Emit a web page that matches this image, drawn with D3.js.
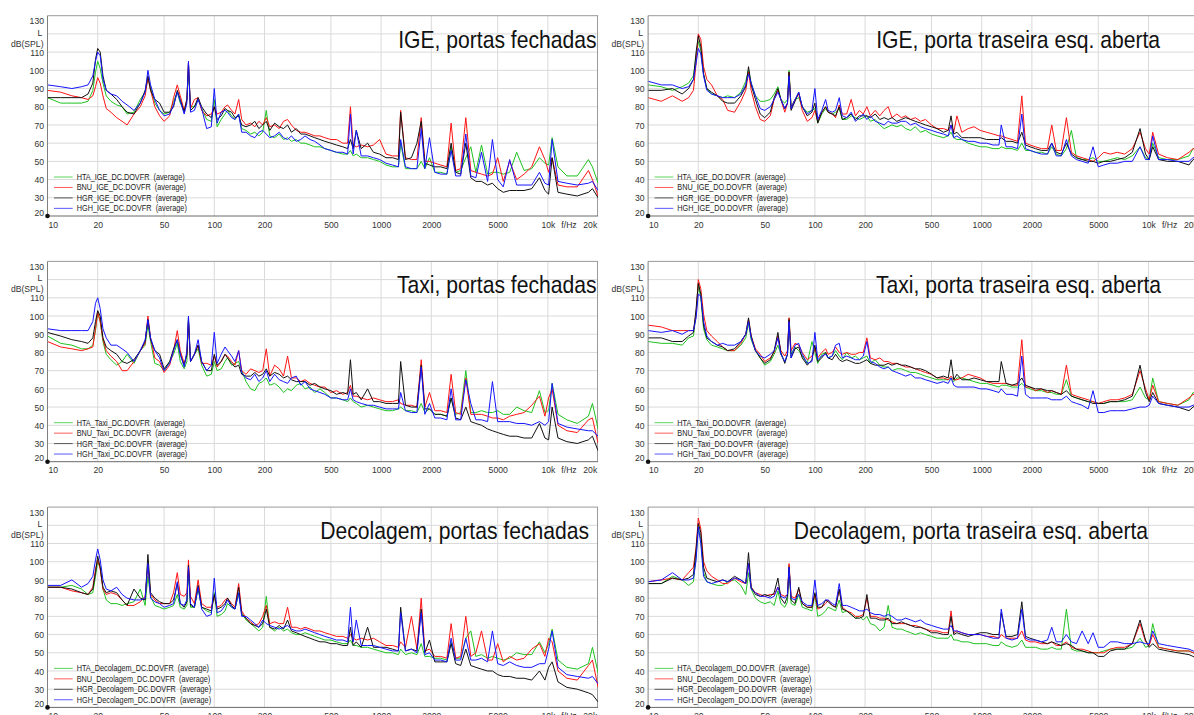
<!DOCTYPE html>
<html>
<head>
<meta charset="utf-8">
<script src="https://cdn.jsdelivr.net/npm/d3@7"></script>
<style>
  html, body { margin: 0; padding: 0; background: #fff; overflow: hidden; }
  svg { display: block; font-family: "Liberation Sans", Arial, Helvetica, sans-serif; }
</style>
</head>
<body>
<svg id="chart" width="1194" height="715"></svg>
<script>
// Frequency grid (Hz) shared by every spectrum
const freqs = [10,12,14,16,17.5,18.7,19.4,20,20.7,21.5,22.5,24,26,28,30,33,36,38.5,40,41.5,44,47,50,54,57,60,62.5,66,68.5,70,72,76,80,84,90,96,100,104,110,116,120,127,133,140,146,
  155,165,175,185,195,205,215,230,245,260,275,290,310,330,
  350,375,400,430,460,500,540,590,630,655,680,710,760,830,900,980,1070,1170,1270,1310,1400,1520,1640,1740,1830,1950,2100,2280,2480,2630,2800,3000,3220,3450,3700,4000,4350,4650,5000,5400,5900,6500,7200,8000,8900,9600,10100,10600,11500,13000,15000,17500,18500,20000];

const seriesNames = ["HTA", "BNU", "HGR", "HGH"];
const seriesColors = ["#1fc21f", "#ff1414", "#111111", "#1414ff"];
const legendColors = ["#5ad65a", "#ff5a5a", "#555555", "#5a5aff"];

const xTickValues = [10, 20, 50, 100, 200, 500, 1000, 2000, 5000, 10000, 20000];
const xTickLabels = ["10", "20", "50", "100", "200", "500", "1000", "2000", "5000", "10k", "20k"];
const yTickValues = [20, 30, 40, 50, 60, 70, 80, 90, 100, 110, 130];
const yGridValues = [30, 40, 50, 60, 70, 80, 90, 100, 110, 120];
const xGridValues = [20, 50, 100, 200, 500, 1000, 2000, 5000, 10000];

// Levels in dB(SPL), one value per grid frequency
const igeDcHTA = [85,82,82,82,83,89,99,105,101,93,86,83,81,80,76,77,84,88,95,91,82,78,76,77,83,88,82,78,84,99,80,80,84,79,73,72,84,69,73,76,78,75,73,76,68, 67,65,66,64,66,78,64,63,65,62,63,61,62,60, 60,59,58,58,57,56,55,54,54,56,53,54,52,52,51,50,48,47,47,60,46,46,46,50,46,52,44,44,43,58,44,45,52,58,44,59,43,44,44,43,44,55,45,46,52,49,48,63,47,42,42,51,47,38];
const igeDcBNU = [89,88,86,85,84,86,91,96,93,86,79,77,74,72,70,76,80,86,96,89,80,75,72,75,85,92,86,78,84,104,79,84,85,78,75,76,80,76,77,80,81,78,76,84,73, 70,71,69,72,70,74,69,70,68,72,73,70,67,66, 66,65,64,64,63,62,62,60,60,80,59,58,59,58,59,62,54,53,53,78,52,51,51,74,50,50,49,48,47,71,45,46,74,45,44,43,42,43,52,39,50,40,43,47,58,51,44,52,37,36,36,45,40,31];
const igeDcHGR = [85,85,85,85,87,93,106,112,110,97,89,87,84,80,77,76,82,89,97,89,84,82,77,77,80,89,84,77,84,104,78,80,85,80,76,74,80,73,75,79,78,77,74,75,70, 69,70,72,68,70,72,67,71,69,68,70,66,68,65, 65,64,63,62,61,60,59,58,57,62,57,67,57,60,55,54,52,52,51,77,51,52,60,72,49,48,47,47,46,60,44,43,60,41,39,39,37,38,35,33,34,34,34,35,41,34,32,52,33,32,31,33,35,30];
const igeDcHGH = [92,91,90,91,92,97,105,110,108,95,89,87,86,83,81,78,82,88,100,92,84,78,75,76,81,88,83,76,82,105,77,78,84,79,68,69,90,71,77,78,77,74,73,76,66, 66,64,63,66,67,65,63,64,66,63,62,64,61,62, 64,62,61,59,57,56,55,55,54,76,54,67,53,53,52,51,49,48,47,62,47,46,46,68,46,63,44,43,43,56,42,42,65,42,41,55,39,62,40,36,51,37,37,37,44,38,37,62,39,38,37,38,39,34];

const igeDoHTA = [92,91,89,91,93,97,108,116,111,98,90,87,86,85,86,85,88,94,100,93,86,83,83,84,87,91,84,82,84,100,80,84,85,80,77,78,79,71,76,79,77,76,77,79,73, 73,75,74,73,74,75,72,73,70,68,69,70,69,70, 68,67,69,66,67,65,64,63,64,66,63,62,62,60,59,58,58,57,57,58,57,57,56,60,56,56,55,55,54,58,54,53,57,67,52,51,51,52,50,50,51,52,51,53,58,52,51,60,52,51,51,53,57,57];
const igeDoBNU = [85,83,86,83,85,89,104,120,117,102,95,92,86,84,78,77,83,89,99,89,80,73,72,75,84,89,84,77,82,99,79,84,87,78,72,74,78,72,77,80,77,76,74,81,76, 76,84,75,78,76,80,75,78,75,78,80,74,76,74, 75,73,74,72,73,70,68,68,67,70,66,75,66,68,69,67,66,65,64,64,63,62,61,86,60,59,58,57,57,70,56,56,74,55,53,52,51,50,52,55,54,55,54,57,66,57,54,66,54,52,51,55,57,56];
const igeDoHGR = [89,89,90,87,90,95,110,119,113,98,90,88,86,83,82,82,86,91,102,92,84,76,74,77,85,90,84,79,82,99,78,83,88,80,75,77,82,71,77,80,77,76,75,80,73, 74,76,73,75,75,75,74,76,73,74,73,74,72,73, 74,73,72,71,70,69,68,66,67,75,65,66,63,63,63,63,62,62,62,63,61,61,60,66,59,58,57,56,56,60,55,54,60,54,52,51,50,50,49,50,50,51,52,55,68,54,51,58,51,50,50,48,51,52];
const igeDoHGH = [94,92,92,90,91,95,104,112,109,97,89,87,86,85,85,85,87,92,98,93,86,79,78,80,84,88,84,79,82,97,79,84,88,80,76,78,90,73,78,84,78,77,78,85,75, 74,77,72,74,76,73,75,72,71,70,72,71,71,72, 72,70,71,69,68,67,66,65,64,70,63,64,62,61,61,60,60,59,59,70,58,58,57,76,57,56,55,54,54,60,53,53,62,53,51,50,49,58,47,48,49,49,50,50,58,51,51,64,51,51,50,50,52,53];

const taxiDcHTA = [89,85,84,82,82,84,92,102,97,86,79,76,73,75,79,74,81,84,95,86,74,73,70,75,79,85,75,71,75,97,75,79,82,73,67,68,75,70,71,75,77,73,74,75,70, 64,60,59,63,64,66,62,63,61,58,60,59,62,63,60,61,58,60,58,55,55,54,53,55,53,52,50,51,50,49,48,48,49, 50,48,48,47,52,47,49,46,46,45,55,46,47,70,47,47,48,47,47,48,46,46,50,48,47,59,47,48,63,46,43,41,45,52,38];
const taxiDcBNU = [86,83,82,81,82,83,93,102,97,87,81,78,75,70,70,75,81,85,100,88,77,75,69,73,81,92,81,74,79,97,75,79,84,74,74,73,78,72,75,79,78,75,73,81,70, 68,71,70,69,70,82,67,73,71,67,78,66,66,64,65,63,62,61,61,58,59,57,58,62,56,56,55,54,55,54,53,53,54, 52,51,51,50,76,50,58,48,48,47,68,47,46,66,46,46,46,45,44,44,43,45,46,47,51,56,45,55,60,40,37,36,43,44,30];
const taxiDcHGR = [91,89,87,86,85,88,97,103,100,88,83,81,79,75,74,76,81,86,98,87,81,79,71,75,82,87,79,73,79,99,75,79,84,75,70,70,79,73,75,79,77,74,72,73,68, 67,67,69,67,68,71,67,69,68,66,67,65,64,64,64,62,63,61,60,59,57,58,57,76,57,58,54,60,53,53,52,52,52, 75,51,50,50,73,49,49,46,46,45,55,44,43,50,42,41,40,38,37,36,35,34,34,33,33,41,33,32,50,33,31,30,32,34,26];
const taxiDcHGH = [93,92,92,92,92,97,107,110,104,93,88,84,84,82,80,75,81,87,98,88,81,77,70,74,81,87,79,72,81,100,75,79,87,75,70,73,91,74,79,83,81,78,75,81,69, 66,65,68,64,66,70,64,68,65,64,63,66,67,62,64,60,59,58,57,55,55,54,54,60,54,53,52,51,51,50,49,49,49, 58,48,47,47,72,46,52,44,44,43,60,43,43,65,52,43,43,42,64,42,42,42,41,41,40,42,40,42,63,41,39,38,37,37,34];

const taxiDoHTA = [86,85,85,84,88,89,101,117,110,93,87,84,83,82,81,81,84,88,96,87,81,77,73,75,79,84,79,75,79,99,79,83,81, 78,74,86,80,74,79,80,77,78,81,78,76, 80,77,78,76,77,78,74,76,73,72,72,70,71,71, 70,69,69,68,67,66,65,65,65,66,64,66,66,65,64,63,63,62,61,62,62,61,61,63,61,60,59,59,58,58,57,57,65,56,55,54,53,53,52,52,53,53,53,54,61,55,54,66,53,52,51,54,58,56];
const taxiDoBNU = [95,94,92,92,92,92,101,120,115,101,92,89,86,83,81,81,85,90,98,89,82,79,75,77,80,89,81,78,81,99,81,85,84, 80,76,78,82,77,80,82,79,80,83,80,79, 80,79,79,80,80,88,77,76,77,75,75,74,74,73, 72,72,71,70,69,68,66,66,65,67,65,65,66,68,67,66,64,63,63,63,63,62,62,87,61,61,59,60,58,59,58,57,73,57,56,55,54,53,52,53,54,54,55,57,70,60,54,62,53,52,51,55,57,56];
const taxiDoHGR = [88,88,86,86,89,91,104,118,112,95,88,86,84,83,81,82,86,90,99,89,81,77,74,76,81,91,80,74,79,98,77,82,83, 77,73,76,84,75,77,80,77,76,79,76,75, 76,75,74,74,75,76,74,73,73,73,74,73,74,73, 73,72,71,71,70,68,66,67,66,76,65,68,65,65,66,65,64,64,64,75,63,62,63,66,62,61,60,60,59,59,58,57,59,56,55,54,53,52,52,52,53,53,54,56,73,58,53,58,52,51,50,48,50,52];
const taxiDoHGH = [92,91,92,90,92,92,99,112,111,97,89,86,84,85,84,84,86,90,97,88,81,78,77,79,81,88,79,75,79,97,77,84,85, 79,74,75,91,76,78,79,77,78,84,85,77, 78,77,76,76,78,86,75,74,72,71,72,70,69,68, 67,68,66,66,65,64,63,64,63,66,62,61,61,61,61,60,60,59,58,60,57,57,56,78,57,55,55,55,55,54,54,54,56,53,52,51,49,59,47,47,48,48,48,49,50,50,51,56,52,51,50,50,51,52];

const decDcHTA = [86,86,87,85,82,83,92,100,97,85,79,77,77,76,77,78,85,76,92,81,76,75,74,75,76,82,75,74,76,95,75,75,85,75,73,72,83,70,71,73,77,75,74,82,72, 68,66,64,62,64,81,64,62,64,62,63,61,60,60, 61,60,59,58,57,57,56,55,55,57,54,54,53,53,52,51,50,50,49,52,49,50,49,55,48,48,47,47,46,56,47,47,58,62,48,49,47,48,47,46,47,50,49,49,56,50,55,63,46,42,41,44,53,39];
const decDcBNU = [86,86,84,83,82,86,96,101,96,85,82,83,82,79,76,76,78,81,99,82,79,77,77,77,83,94,82,81,83,101,81,77,90,77,75,75,81,75,76,79,80,77,75,88,73, 69,67,65,66,70,76,66,67,66,66,75,64,64,63, 64,63,62,62,61,60,59,59,58,60,58,57,58,57,58,56,54,54,53,56,53,70,52,80,51,52,48,48,47,66,47,48,70,48,50,62,46,46,55,45,48,46,47,52,55,48,58,56,40,36,35,43,46,31];
const decDcHGR = [86,86,85,83,82,85,94,103,97,86,83,84,83,79,76,85,80,79,104,83,80,78,77,77,79,88,77,75,78,98,76,75,87,75,74,73,82,74,75,77,80,76,74,86,71, 69,66,65,64,66,74,64,63,65,63,68,62,61,60, 59,58,57,56,56,55,55,54,54,64,54,56,53,64,53,53,53,52,51,75,51,52,51,74,50,57,45,45,45,55,44,43,52,43,42,41,40,40,38,37,37,36,36,35,40,35,42,45,34,31,30,28,27,23];
const decDcHGH = [87,87,90,86,88,92,101,107,101,90,85,84,86,82,80,79,79,80,99,80,78,77,75,76,77,89,77,76,79,97,77,75,86,74,70,71,91,72,73,76,79,75,74,83,70, 70,68,66,64,68,66,65,64,63,64,65,63,62,62, 63,62,61,60,59,58,57,57,56,75,56,68,54,54,54,53,52,51,51,72,51,52,50,72,49,50,46,46,45,58,46,46,58,46,46,47,45,62,44,43,45,43,42,42,44,44,52,62,42,38,37,36,37,33];

const decDoHTA = [88,88,92,90,87,89,103,119,112,94,89,88,87,87,89,90,87,82,94,85,80,78,77,78,76,84,77,75,78,98,77,76,82,75,74,73,82,70,71,73,75,74,73,79,72, 73,71,69,70,68,70,66,65,62,64,76,64,63,63, 62,61,60,61,60,59,58,58,58,60,57,57,56,56,55,55,55,54,54,56,54,53,54,57,53,53,53,52,52,53,52,52,74,52,51,51,50,50,50,51,52,52,52,53,58,53,54,66,53,52,51,51,50,49];
const decDoBNU = [89,90,91,90,94,97,108,124,118,100,95,92,90,88,88,91,89,88,99,86,83,82,81,82,82,86,82,81,82,99,81,80,85,77,75,75,82,74,75,77,79,76,75,85,75, 73,72,70,70,71,80,70,70,69,69,68,67,66,66, 66,65,65,64,63,62,62,61,61,73,61,62,61,60,60,60,59,59,58,60,58,58,58,62,57,56,56,55,55,56,54,54,56,53,52,52,51,50,50,50,52,53,53,55,66,56,54,60,53,52,51,51,50,49];
const decDoHGR = [88,88,91,90,91,93,107,121,116,97,91,90,89,90,89,92,90,88,105,86,82,81,82,81,83,91,80,77,81,97,79,77,86,77,75,75,83,75,75,79,78,76,75,85,74, 73,71,69,69,70,82,69,69,68,68,69,66,66,67, 66,65,64,64,63,61,61,60,60,70,60,61,60,59,60,61,61,60,60,72,59,59,60,78,59,58,57,56,55,56,55,54,55,54,52,51,50,50,48,48,51,52,52,55,68,57,53,55,52,51,50,49,48,46];
const decDoHGH = [89,90,94,90,90,91,101,119,110,92,89,88,89,90,89,91,90,88,99,85,83,81,81,80,81,86,81,80,82,97,80,79,82,78,76,76,90,76,77,79,79,77,76,88,76, 76,75,74,73,73,74,72,71,71,70,71,70,68,68, 69,68,67,68,66,65,64,63,63,65,62,62,61,60,60,60,59,58,58,74,58,57,58,74,58,57,57,56,57,64,56,56,60,56,55,62,55,61,53,53,56,56,55,55,56,55,55,62,55,54,53,52,51,50];

const panelTitles = [
  "IGE, portas fechadas", "IGE, porta traseira esq. aberta",
  "Taxi, portas fechadas", "Taxi, porta traseira esq. aberta",
  "Decolagem, portas fechadas", "Decolagem, porta traseira esq. aberta"
];
const panelKeys = ["IGE_DC", "IGE_DO", "Taxi_DC", "Taxi_DO", "Decolagem_DC", "Decolagem_DO"];
const panelSeries = [
  [igeDcHTA, igeDcBNU, igeDcHGR, igeDcHGH],
  [igeDoHTA, igeDoBNU, igeDoHGR, igeDoHGH],
  [taxiDcHTA, taxiDcBNU, taxiDcHGR, taxiDcHGH],
  [taxiDoHTA, taxiDoBNU, taxiDoHGR, taxiDoHGH],
  [decDcHTA, decDcBNU, decDcHGR, decDcHGH],
  [decDoHTA, decDoBNU, decDoHGR, decDoHGH]
];

// ---- layout ----
const COL_STEP = 600.6, ROW_STEP = 245.7;
const PLOT = { left: 47.5, right: 598.1, top: 15.7, bottom: 216 };
const TITLE_END = [596.5, 559.5, 596.5, 560.5, 589, 547.5];
const SX = 0.88;              // horizontal squeeze applied to all text
const FONT_TICK = 9.8, FONT_TITLE = 24, FONT_LEGEND = 8.3;

const svg = d3.select("#chart");
const x = d3.scaleLog().domain([10, 20000]).range([PLOT.left, PLOT.right]);
const y = d3.scaleLinear().domain([20, 130]).range([PLOT.bottom, PLOT.top]);
const line = d3.line().x((v, j) => x(freqs[j])).y(v => y(v));

function squeezedText(parent, tx, ty, str, size, anchor, fill) {
  return parent.append("text")
    .attr("transform", `translate(${tx},${ty}) scale(${SX},1)`)
    .attr("font-size", size)
    .attr("text-anchor", anchor)
    .attr("fill", fill)
    .style("white-space", "pre")
    .text(str);
}

panelTitles.forEach((title, i) => {
  const col = i % 2, row = Math.floor(i / 2);
  const g = svg.append("g").attr("transform", `translate(${col * COL_STEP},${row * ROW_STEP})`);

  // grid
  g.append("g").selectAll("line").data(yGridValues).join("line")
    .attr("x1", PLOT.left).attr("x2", PLOT.right)
    .attr("y1", d => y(d)).attr("y2", d => y(d))
    .attr("stroke", "#dadada").attr("stroke-width", 1);
  g.append("g").selectAll("line").data(xGridValues).join("line")
    .attr("x1", d => x(d)).attr("x2", d => x(d))
    .attr("y1", PLOT.top).attr("y2", PLOT.bottom)
    .attr("stroke", "#dadada").attr("stroke-width", 1);

  // frame
  g.append("line").attr("x1", PLOT.left).attr("x2", PLOT.right).attr("y1", PLOT.top).attr("y2", PLOT.top)
    .attr("stroke", "#9a9a9a");
  g.append("line").attr("x1", PLOT.right - 0.6).attr("x2", PLOT.right - 0.6).attr("y1", PLOT.top).attr("y2", PLOT.bottom)
    .attr("stroke", "#9a9a9a");

  // spectra
  const clipId = "plot-clip-" + i;
  g.append("clipPath").attr("id", clipId).append("rect")
    .attr("x", PLOT.left).attr("y", PLOT.top)
    .attr("width", PLOT.right - PLOT.left).attr("height", PLOT.bottom - PLOT.top);
  panelSeries[i].forEach((vals, k) => {
    g.append("path").datum(vals)
      .attr("clip-path", `url(#${clipId})`)
      .attr("fill", "none")
      .attr("stroke", seriesColors[k])
      .attr("stroke-width", 1)
      .attr("stroke-linejoin", "round")
      .attr("d", line);
  });

  // axes lines
  g.append("line").attr("x1", PLOT.left).attr("x2", PLOT.left).attr("y1", PLOT.top).attr("y2", PLOT.bottom)
    .attr("stroke", "#808080");
  g.append("line").attr("x1", PLOT.left).attr("x2", PLOT.right).attr("y1", PLOT.bottom).attr("y2", PLOT.bottom)
    .attr("stroke", "#6a6a6a");
  g.append("circle").attr("cx", PLOT.left).attr("cy", PLOT.bottom).attr("r", 2.3).attr("fill", "#111");

  // y axis labels
  const ya = g.append("g").attr("transform", `translate(${PLOT.left},0)`)
    .call(d3.axisLeft(y).tickValues(yTickValues).tickSize(0).tickPadding(4).tickFormat(d3.format("d")));
  ya.select(".domain").remove();
  ya.selectAll("text")
    .attr("font-size", FONT_TICK).attr("font-family", null).attr("fill", "#333")
    .attr("dy", d => d === 130 ? "0.82em" : d === 20 ? "-0.09em" : "0.32em")
    .attr("transform", `scale(${SX},1)`);
  squeezedText(g, 40, 35.5, "L", FONT_TICK, "middle", "#333");
  squeezedText(g, 43.5, 46.5, "dB(SPL)", FONT_TICK, "end", "#333");

  // x axis labels
  const xa = g.append("g").attr("transform", `translate(0,${PLOT.bottom})`)
    .call(d3.axisBottom(x).tickValues(xTickValues).tickSize(0).tickPadding(4.7)
      .tickFormat((d, j) => xTickLabels[j]));
  xa.select(".domain").remove();
  xa.selectAll("text")
    .attr("font-size", FONT_TICK).attr("font-family", null).attr("fill", "#333")
    .attr("dx", d => d === 10 ? 6 : d === 20000 ? -9.5 : 0)
    .attr("transform", `scale(${SX},1)`);
  squeezedText(g, 569, PLOT.bottom + 11.7, "f/Hz", FONT_TICK, "middle", "#333");

  // title
  squeezedText(g, TITLE_END[i], 47.7, title, FONT_TITLE, "end", "#111");

  // legend
  const lg = g.append("g");
  seriesNames.forEach((name, k) => {
    const ly = 177 + k * 10.45;
    lg.append("line").attr("x1", 54).attr("x2", 72.7).attr("y1", ly).attr("y2", ly)
      .attr("stroke", legendColors[k]).attr("stroke-width", 1);
    squeezedText(lg, 76.7, ly + 3, `${name}_${panelKeys[i]}.DOVFR  (average)`, FONT_LEGEND, "start", "#222");
  });
});

panelSeries.forEach((ss, i) => ss.forEach((s, k) => {
  if (s.length !== freqs.length) console.error("length mismatch", panelKeys[i], seriesNames[k], s.length);
}));
</script>
</body>
</html>
